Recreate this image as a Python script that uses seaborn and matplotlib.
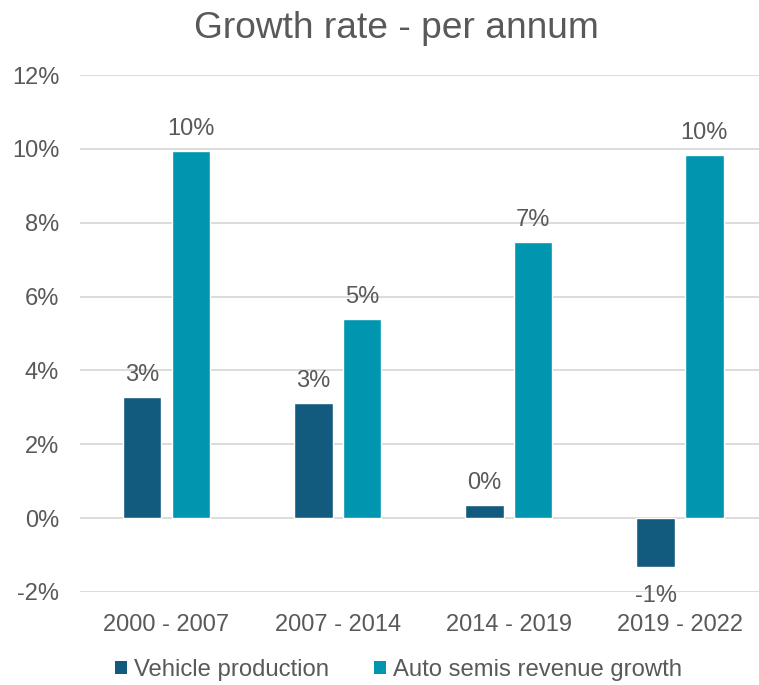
import matplotlib
matplotlib.use("Agg")
import matplotlib.pyplot as plt
import seaborn as sns
import pandas as pd
from matplotlib.patches import Patch

periods = ["2000 - 2007", "2007 - 2014", "2014 - 2019", "2019 - 2022"]
vehicle_production = [3.28, 3.12, 0.35, -1.33]
auto_semis_growth = [9.94, 5.38, 7.47, 9.83]
series_names = ["Vehicle production", "Auto semis revenue growth"]
y_ticks = [-2, 0, 2, 4, 6, 8, 10, 12]

colors = ["#125A7E", "#0096B0"]
grey = "#595959"

df = pd.DataFrame({
    "period": periods * 2,
    "value": vehicle_production + auto_semis_growth,
    "series": [series_names[0]] * 4 + [series_names[1]] * 4,
})

sns.set_style("white")
plt.rcParams["font.family"] = ["Liberation Sans", "DejaVu Sans"]

fig = plt.figure(figsize=(7.59, 6.85), dpi=100)
ax = fig.add_axes([0.1054, 0.136, 0.8946, 0.7545])

sns.barplot(data=df, x="period", y="value", hue="series", palette=colors,
            width=0.569, gap=0.21, ax=ax, legend=False, saturation=1)

ax.set_xlim(-0.505, 3.461)
ax.set_ylim(-2, 12)
ax.set_yticks(y_ticks)
ax.set_yticklabels([f"{t}%" for t in y_ticks])
ax.yaxis.grid(True, color="#D9D9D9", linewidth=1.3)
ax.set_axisbelow(True)
for s in ax.spines.values():
    s.set_visible(False)
ax.tick_params(axis="both", length=0, labelsize=17, colors=grey)
ax.tick_params(axis="y", pad=15)
ax.tick_params(axis="x", pad=16)
ax.set_xlabel("")
ax.set_ylabel("")

for cont in ax.containers:
    labels = [f"{round(b.get_height()):.0f}%" for b in cont]
    texts = ax.bar_label(cont, labels=labels, padding=8, fontsize=17, color=grey)
    for b, t in zip(cont, texts):
        if b.get_height() < 0:
            x, y = t.xyann
            t.xyann = (x, y - 5)

ax.set_title("Growth rate - per annum", fontsize=26.7, color=grey, pad=27, x=0.466)

handles = [Patch(facecolor=c, edgecolor="none") for c in colors]
fig.legend(handles, series_names, loc="center", bbox_to_anchor=(0.525, 0.022),
           ncol=2, frameon=False, fontsize=17.2, labelcolor=grey,
           handlelength=0.5, handleheight=0.5, handletextpad=0.3, columnspacing=1.85)

fig.savefig("out.png", dpi=100)
